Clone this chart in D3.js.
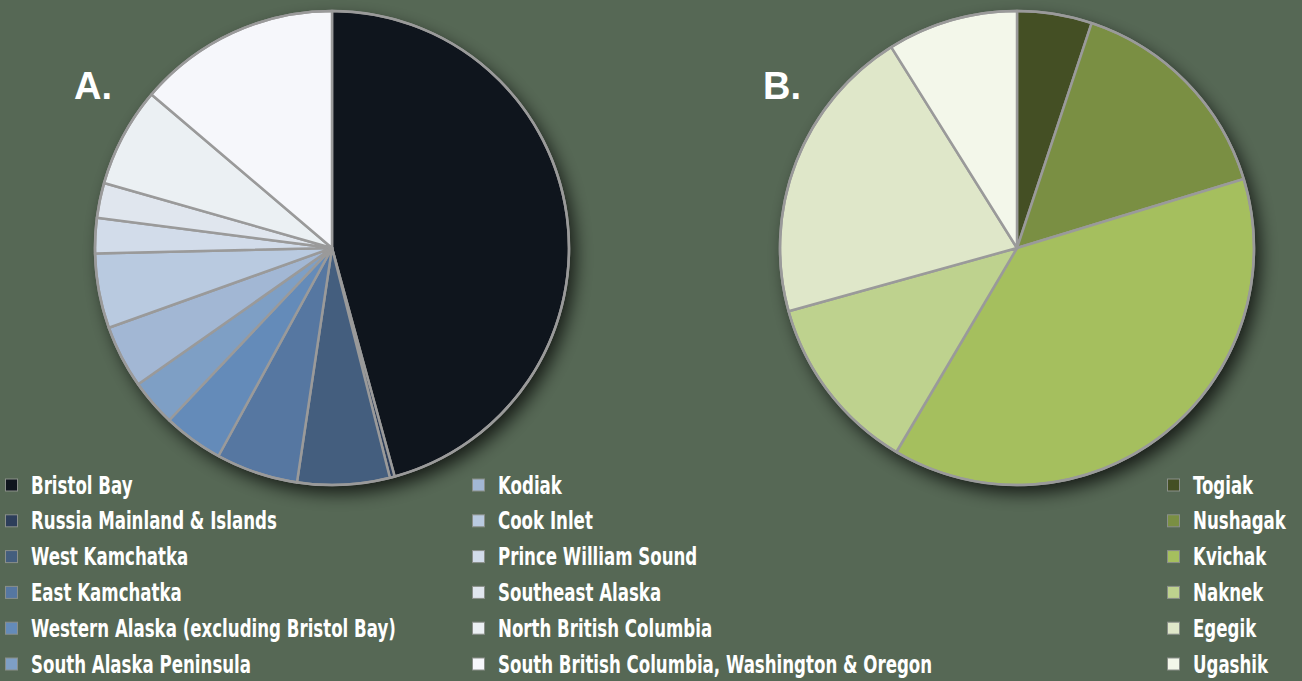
<!DOCTYPE html>
<html>
<head>
<meta charset="utf-8">
<script src="https://cdn.jsdelivr.net/npm/d3@7"></script>
<style>
  html, body { margin: 0; padding: 0; background: #566855; }
  svg { display: block; }
  .leg { font-family: "DejaVu Sans Condensed", "DejaVu Sans", sans-serif; font-weight: bold; fill: #ffffff; }
  .lbl { font-family: "Liberation Sans", "Open Sans", sans-serif; font-weight: bold; fill: #ffffff; }
</style>
</head>
<body>
<svg id="chart" width="1302" height="681"></svg>
<script>
// ---- Data ----
const regionsA = ["Bristol Bay", "Russia Mainland & Islands", "West Kamchatka", "East Kamchatka",
  "Western Alaska (excluding Bristol Bay)", "South Alaska Peninsula", "Kodiak", "Cook Inlet",
  "Prince William Sound", "Southeast Alaska", "North British Columbia",
  "South British Columbia, Washington & Oregon"];
const valuesA = [45.8, 0.33, 6.3, 5.6, 4.1, 3.2, 4.3, 5.1, 2.4, 2.4, 6.8, 13.8];
const colorsA = ["#0f151d", "#2d3e5a", "#445e7e", "#5677a1", "#648bb9", "#7e9fc5",
  "#a2b7d4", "#b9cae0", "#d2dcea", "#e0e6ee", "#ebf0f3", "#f6f7fb"];

const riversB = ["Togiak", "Nushagak", "Kvichak", "Naknek", "Egegik", "Ugashik"];
const valuesB = [5.1, 15.2, 38.2, 12.2, 20.4, 8.9];
const colorsB = ["#444f24", "#7a8f43", "#a5bf5e", "#bed28e", "#dfe7c9", "#f3f7ea"];

const panelLabels = ["A.", "B."];

// ---- Drawing ----
const svg = d3.select("#chart");
svg.append("rect").attr("width", 1302).attr("height", 681).attr("fill", "#566855");

const defs = svg.append("defs");
const f = defs.append("filter").attr("id", "shadow")
  .attr("x", "-20%").attr("y", "-20%").attr("width", "140%").attr("height", "140%");
f.append("feDropShadow").attr("dx", 6).attr("dy", 8).attr("stdDeviation", 9)
  .attr("flood-color", "#000").attr("flood-opacity", 0.75);

const R = 237;
const pie = d3.pie().sort(null).value(d => d);
const arc = d3.arc().innerRadius(0).outerRadius(R);

function drawPie(cx, cy, values, colors) {
  const g = svg.append("g").attr("transform", `translate(${cx},${cy})`);
  g.append("circle").attr("r", R).attr("fill", "#999").attr("filter", "url(#shadow)");
  g.selectAll("path").data(pie(values)).join("path")
    .attr("d", arc)
    .attr("fill", (d, i) => colors[i])
    .attr("stroke", "#9a9a9a")
    .attr("stroke-width", 2.5)
    .attr("stroke-linejoin", "round");
  g.append("circle").attr("r", R).attr("fill", "none")
    .attr("stroke", "#9a9a9a").attr("stroke-width", 2.5);
}

drawPie(332, 248, valuesA, colorsA);
drawPie(1017, 248, valuesB, colorsB);

svg.append("text").attr("class", "lbl").attr("x", 74).attr("y", 99)
  .attr("font-size", 38).text(panelLabels[0]);
svg.append("text").attr("class", "lbl").attr("x", 763).attr("y", 99)
  .attr("font-size", 38).text(panelLabels[1]);

// Legend
const rowY = d3.scalePoint().domain(d3.range(6)).range([485, 664]);

function legend(x, names, colors) {
  const g = svg.append("g");
  const items = g.selectAll("g").data(names).join("g")
    .attr("transform", (d, i) => `translate(${x},${rowY(i)})`);
  items.append("rect").attr("x", 0).attr("y", -6).attr("width", 12).attr("height", 12)
    .attr("fill", (d, i) => colors[i]).attr("stroke", "#8a8f8a").attr("stroke-width", 1);
  items.append("text").attr("class", "leg")
    .attr("transform", "translate(25.5,8.5) scale(0.755,1)")
    .attr("font-size", 24.5).text(d => d);
}

legend(5.5, regionsA.slice(0, 6), colorsA.slice(0, 6));
legend(472.5, regionsA.slice(6), colorsA.slice(6));
legend(1167.5, riversB, colorsB);
</script>
</body>
</html>
